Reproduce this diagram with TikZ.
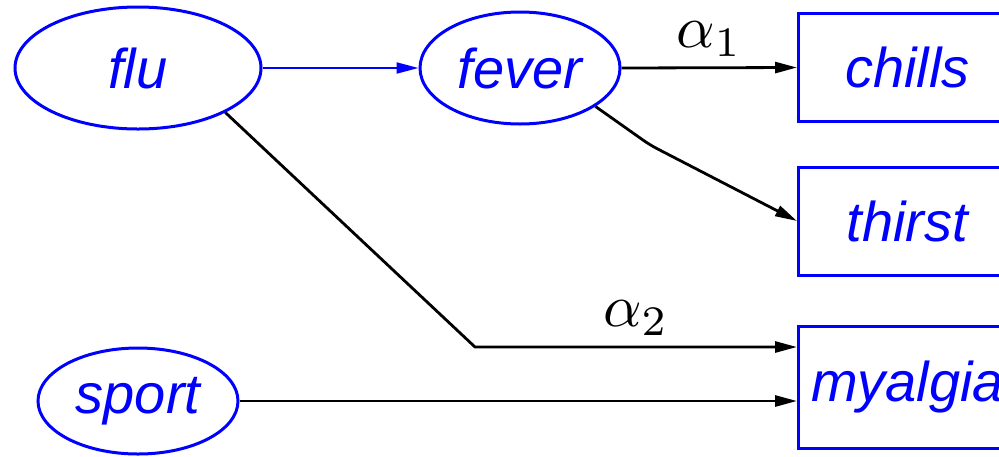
\documentclass[tikz,border=0pt]{standalone}
\usepackage{graphicx}
\usepackage{fontspec}
\setsansfont{Liberation Sans}
\usetikzlibrary{arrows.meta,shapes.geometric,calc}
\begin{document}
\begin{tikzpicture}[x=0.5pt,y=-0.5pt,
  lbl/.style={font=\sffamily\itshape\fontsize{28}{32}\selectfont, text=blue},
  ell/.style={ellipse, draw=blue, line width=1.5pt, inner sep=0pt, lbl},
  box/.style={rectangle, draw=blue, line width=1.5pt, inner sep=0pt, minimum width=109pt, minimum height=54pt, lbl},
  edge/.style={line width=1.4pt, -{Triangle[length=11pt,width=5.5pt]}},
  alab/.style={inner sep=0pt, above=5pt}]
\clip (0,0) rectangle (999,456);
\fill[white] (0,0) rectangle (999,456);
\node[ell, minimum width=123pt, minimum height=61pt] (flu) at (138,68) {flu};
\node[ell, minimum width=100pt, minimum height=56pt] (fever) at (520,68) {fever};
\node[ell, minimum width=100pt, minimum height=53pt] (sport) at (138,401) {sport};
\node[box, anchor=west] (chills) at (797,67.5) {chills};
\node[box, anchor=west] (thirst) at (797,221) {thirst};
\node[box, anchor=west, minimum height=61pt] (myalgia) at (797,387) {myalgia};
\coordinate (b1) at (650,145);
\coordinate (b2) at (475,347);
\draw[edge, blue, line width=1pt] (flu.east) -- (fever.west);
\draw[edge] (fever.east) -- node[alab] {\scalebox{3.0}{$\alpha_1$}} (chills.west);
\draw[edge, rounded corners=4pt] (fever.-27) -- (b1) -- (thirst.west);
\draw[edge] (flu.-27) -- (b2) -- node[alab] {\scalebox{3.0}{$\alpha_2$}} (myalgia.west |- b2);
\draw[edge] (sport.east) -- (myalgia.west |- sport.east);
\end{tikzpicture}
\end{document}
